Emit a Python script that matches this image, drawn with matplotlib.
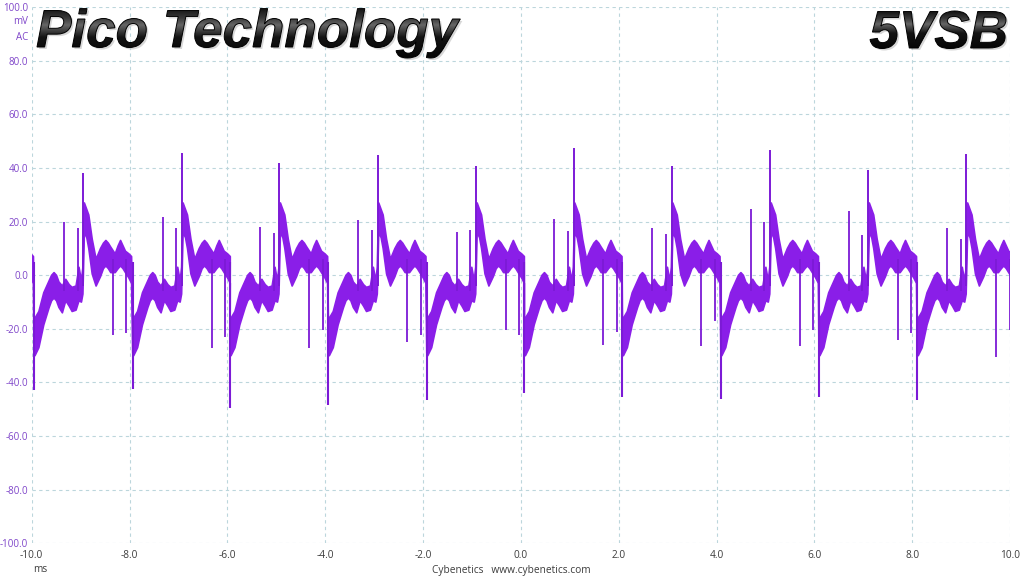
import numpy as np
import matplotlib
matplotlib.use("Agg")
import matplotlib.pyplot as plt
from matplotlib.textpath import TextPath
from matplotlib.font_manager import FontProperties
from matplotlib.patches import PathPatch
from matplotlib.transforms import Affine2D
from matplotlib.colors import LinearSegmentedColormap

plt.rcParams['axes.unicode_minus'] = False

# ---------------- data ----------------
x_ticks = [-10, -8, -6, -4, -2, 0, 2, 4, 6, 8, 10]
x_tick_labels = ["-10.0", "-8.0", "-6.0", "-4.0", "-2.0", "0.0", "2.0", "4.0", "6.0", "8.0", "10.0"]
y_ticks = [-100, -80, -60, -40, -20, 0, 20, 40, 60, 80, 100]
y_tick_labels = ["-100.0", "-80.0", "-60.0", "-40.0", "-20.0", "0.0", "20.0", "40.0", "60.0", "80.0", "100.0"]

# time (ms) of the large negative spike that starts each switching cycle
cycle_starts = [-9.953, -7.935, -5.945, -3.935, -1.923, 0.073, 2.077, 4.089, 6.094, 8.104]
cycle_period = 2.006

# ripple band envelope within one cycle: offset (ms), lower (mV), upper (mV)
band_offset = [0.000, 0.020, 0.100, 0.200, 0.310, 0.360, 0.410, 0.460, 0.510, 0.580, 0.650,
               0.720, 0.780, 0.860, 0.920, 0.970, 1.000, 1.030, 1.080, 1.120, 1.190, 1.270,
               1.360, 1.420, 1.470, 1.520, 1.570, 1.660, 1.720, 1.770, 1.820, 1.870, 1.940, 1.995]
band_lower = [-29.0, -30.0, -27.0, -18.5, -12.0, -9.5, -8.5, -9.5, -12.0, -14.0, -9.5,
              -11.5, -13.5, -13.0, -9.5, -10.0, -7.0, 16.0, 14.0, 10.0, 0.5, -4.0,
              -0.5, 2.5, 3.5, 2.5, 1.0, 1.0, 2.5, 3.5, 2.5, 1.0, -1.0, -3.0]
band_upper = [-16.0, -16.0, -13.5, -6.5, -2.0, 0.0, 1.0, 0.0, -2.5, -4.0, -1.5,
              -3.5, -4.5, -4.0, 3.0, -2.0, 3.0, 27.0, 24.5, 22.5, 13.5, 6.0,
              10.0, 12.0, 13.0, 12.0, 10.5, 8.0, 11.0, 13.0, 11.0, 9.0, 8.0, 7.0]

# per-cycle spike peaks (mV)
neg_spike = [-42.8, -42.5, -49.6, -48.4, -46.5, -44.0, -45.3, -46.0, -45.3, -46.5]
pos_spike = [38.0, 45.5, 41.8, 45.0, 40.9, 47.6, 40.9, 46.8, 39.3, 45.3]
spike_a = [20.0, 21.6, 18.1, 20.6, 16.0, 21.0, 17.8, 24.7, 24.0, 17.5]
spike_b = [17.5, 17.5, 15.7, 17.0, 17.0, 16.7, 15.3, 19.8, 15.0, 13.4]
dip_c = [-22.3, -27.2, -27.2, -24.8, -20.4, -26.0, -26.3, -26.3, -24.1, -30.4]
dip_d = [-21.6, -23.0, -20.4, -22.3, -22.3, -21.0, -17.0, -20.4, -21.5, -20.4]

# spike positions within a cycle (ms)
pos_offset, a_offset, b_offset, c_offset, d_offset = 1.005, 0.61, 0.89, 1.615, 1.89

TRACE = '#8a1ee8'
SPIKE = '#7c1ad6'
GRID = '#bcd6dc'
YLAB = '#7f45c9'
XLAB = '#3c3c3c'
FONT = ['Open Sans', 'DejaVu Sans']

fig = plt.figure(figsize=(10.24, 5.76), dpi=100)
ax = fig.add_axes([0.03096, 0.05677, 0.95537, 0.93056])
ax.set_xlim(-10, 10)
ax.set_ylim(-100, 100)
for s in ax.spines.values():
    s.set_visible(False)
ax.set_xticks(x_ticks)
ax.set_xticklabels(x_tick_labels)
ax.set_yticks(y_ticks)
ax.set_yticklabels(y_tick_labels)
ax.tick_params(axis='both', length=0)
ax.tick_params(axis='y', colors=YLAB, labelsize=7, pad=2.5)
ax.tick_params(axis='x', colors=XLAB, labelsize=7.3, pad=5)
for lab in ax.get_xticklabels() + ax.get_yticklabels():
    lab.set_family(FONT)
ax.grid(True, color=GRID, linestyle=(0, (3, 3)), linewidth=0.8)
ax.set_axisbelow(True)

# build the ripple band through all cycles
starts_all = [cycle_starts[0] - cycle_period] + cycle_starts
off = np.array(band_offset)
t_all = np.concatenate([s + off for s in starts_all])
lo_all = np.concatenate([np.array(band_lower) for _ in starts_all])
hi_all = np.concatenate([np.array(band_upper) for _ in starts_all])
ax.fill_between(t_all, lo_all, hi_all, color=TRACE, linewidth=0, zorder=3)
ax.plot(t_all, lo_all, color=TRACE, lw=1.2, zorder=3, solid_joinstyle='round')
ax.plot(t_all, hi_all, color=TRACE, lw=1.2, zorder=3, solid_joinstyle='round')

cs = np.array(cycle_starts)
ax.vlines(cs, 5, neg_spike, color=SPIKE, lw=1.5, zorder=4)
ax.vlines(cs + pos_offset, -4, pos_spike, color=SPIKE, lw=1.4, zorder=4)
ax.vlines(cs + a_offset, -6, spike_a, color=SPIKE, lw=1.3, zorder=4)
ax.vlines(cs + b_offset, -6, spike_b, color=SPIKE, lw=1.3, zorder=4)
ax.vlines(cs + c_offset, 6, dip_c, color=SPIKE, lw=1.3, zorder=4)
ax.vlines(cs + d_offset, 6, dip_d, color=SPIKE, lw=1.3, zorder=4)

# small labels
fig.text(28 / 1024, 1 - 22 / 576, "mV", ha='right', va='center', fontsize=7,
         color=YLAB, family=FONT)
fig.text(28 / 1024, 1 - 37 / 576, "AC", ha='right', va='center', fontsize=7,
         color=YLAB, family=FONT)
fig.text(33 / 1024, 1 - 570 / 576, "ms", ha='left', va='center', fontsize=7.3,
         color=XLAB, family=FONT)
fig.text(511 / 1024, 1 - 570 / 576, "Cybenetics   www.cybenetics.com", ha='center',
         va='center', fontsize=7.3, color=XLAB, family=FONT)

# metallic titles drawn in pixel coordinates on an overlay axes
ov = fig.add_axes([0, 0, 1, 1], zorder=10)
ov.axis('off')
ov.patch.set_alpha(0)
fp = FontProperties(family='Liberation Sans', weight='bold', style='italic')
grad = np.linspace(0, 1, 256).reshape(-1, 1)
cmap = LinearSegmentedColormap.from_list('metal', [(0, '#050505'), (0.42, '#141414'),
                                                  (0.66, '#666666'), (0.8, '#3a3a3a'),
                                                  (1.0, '#121212')])


def metal_text(s, x, y, size, align_right=False):
    tp = TextPath((0, 0), s, prop=fp, size=size)
    bb = tp.get_extents()
    x = x - (bb.x1 if align_right else bb.x0)
    p = Affine2D().translate(x, y).transform_path(tp)
    shadow = PathPatch(Affine2D().translate(2, -2).transform_path(p),
                       facecolor='#bdbdbd', edgecolor='none', alpha=0.6, zorder=1)
    ov.add_patch(shadow)
    clip = PathPatch(p, facecolor='none', edgecolor='none', zorder=0)
    ov.add_patch(clip)
    e = p.get_extents()
    im = ov.imshow(grad, cmap=cmap, origin='lower', aspect='auto', zorder=2,
                   extent=[e.x0, e.x1, e.y0, e.y1], interpolation='bilinear')
    im.set_clip_path(clip)
    outline = PathPatch(p, facecolor='none', edgecolor='#000000', lw=0.7, zorder=3)
    ov.add_patch(outline)


metal_text("Pico Technology", 37, 576 - 47, 53)
metal_text("5VSB", 1006, 576 - 48, 53, align_right=True)
ov.set_xlim(0, 1024)
ov.set_ylim(0, 576)

fig.savefig("out.png", dpi=100)
